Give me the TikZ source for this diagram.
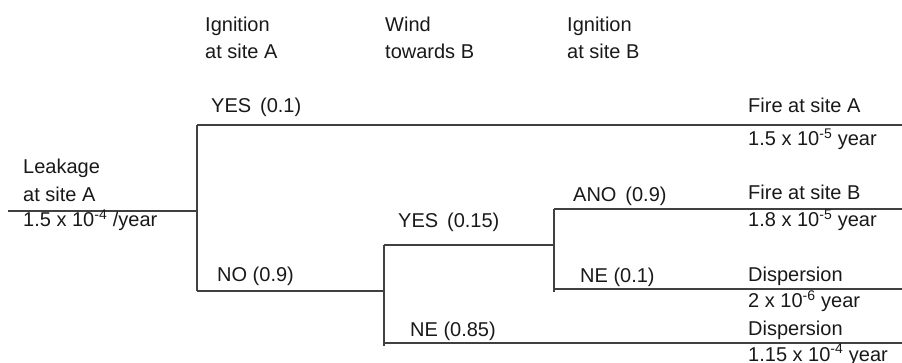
\documentclass[tikz,border=0pt]{standalone}
\usepackage{fontspec}
\setmainfont{Liberation Sans}
\tikzset{branch/.style={line width=1.6pt, black!75},
  lbl/.style={anchor=base west, inner sep=0pt, font=\fontsize{20}{23}\selectfont, text=black!90}}
\begin{document}
\begin{tikzpicture}[x=1pt,y=-1pt]
\useasboundingbox (0,0) rectangle (902,363);
\coordinate (root) at (8,211);
\coordinate (ignA) at (197,211);
\coordinate (ignAyes) at (197,125);
\coordinate (ignAno) at (197,291);
\coordinate (endA) at (902,125);
\coordinate (wind) at (384,291);
\coordinate (windyes) at (384,245);
\coordinate (windno) at (384,346);
\coordinate (windnoline) at (384,343);
\coordinate (endN) at (902,343);
\coordinate (ignB) at (554,245);
\coordinate (ignByes) at (554,209);
\coordinate (ignBno) at (554,292);
\coordinate (ignBnoline) at (554,289);
\coordinate (endB) at (902,209);
\coordinate (endD) at (902,289);
\draw [branch] (root) -- (ignA);
\draw [branch] (ignAyes) -- (ignAno);
\draw [branch] (ignAyes) -- (endA);
\draw [branch] (ignAno) -- (wind);
\draw [branch] (windyes) -- (windno);
\draw [branch] (windyes) -- (ignB);
\draw [branch] (windnoline) -- (endN);
\draw [branch] (ignByes) -- (ignBno);
\draw [branch] (ignByes) -- (endB);
\draw [branch] (ignBnoline) -- (endD);
\node [lbl] (hA1) at (205,32) {Ignition};
\node [lbl] (hA2) at (205,59) {at site A};
\node [lbl] (hW1) at (385,32) {Wind};
\node [lbl] (hW2) at (385,59) {towards B};
\node [lbl] (hB1) at (567,32) {Ignition};
\node [lbl] (hB2) at (567,59) {at site B};
\node [lbl] (leak1) at (23,174) {Leakage};
\node [lbl] (leak2) at (23,202) {at site A};
\node [lbl] (leak3) at (23,227) {1.5 x 10\textsuperscript{-4} /year};
\node [lbl] (yesA) at (211,113) {YES\, (0.1)};
\node [lbl] (noA) at (217,282) {NO (0.9)};
\node [lbl] (yesW) at (398,228) {YES\, (0.15)};
\node [lbl] (noW) at (410,336) {NE (0.85)};
\node [lbl] (yesB) at (573,202) {ANO\, (0.9)};
\node [lbl] (noB) at (580,283) {NE (0.1)};
\node [lbl] (out1) at (748,113) {Fire at site A};
\node [lbl] (freq1) at (748,146) {1.5 x 10\textsuperscript{-5} year};
\node [lbl] (out2) at (748,200) {Fire at site B};
\node [lbl] (freq2) at (748,227) {1.8 x 10\textsuperscript{-5} year};
\node [lbl] (out3) at (748,282) {Dispersion};
\node [lbl] (freq3) at (748,308) {2 x 10\textsuperscript{-6} year};
\node [lbl] (out4) at (748,335) {Dispersion};
\node [lbl] (freq4) at (748,361) {1.15 x 10\textsuperscript{-4} year};
\end{tikzpicture}
\end{document}
